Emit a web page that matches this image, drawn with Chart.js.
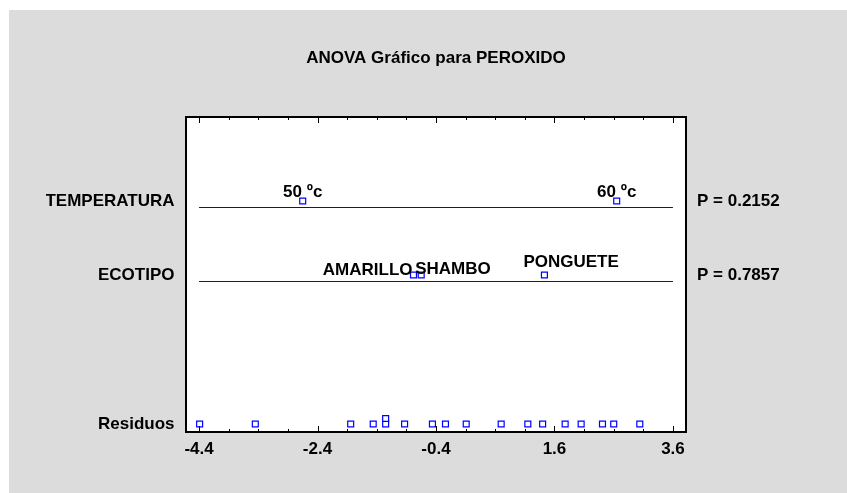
<!DOCTYPE html>
<html lang="es">
<head>
<meta charset="UTF-8">
<title>ANOVA Gráfico para PEROXIDO</title>
<style>
  html, body { margin: 0; padding: 0; background: #fff; }
  canvas { display: block; }
</style>
</head>
<body>
<canvas id="anovaChart" width="847" height="493"></canvas>
<script src="https://cdn.jsdelivr.net/npm/chart.js@4.4.1/dist/chart.umd.min.js"></script>
<script>
// --- data ---
const xTickLabels = [-4.4, -2.4, -0.4, 1.6, 3.6];
const xMinorStep = 0.5;

const factorNames = ['TEMPERATURA', 'ECOTIPO', 'Residuos'];
const pValueLabels = ['P = 0.2152', 'P = 0.7857', ''];

const temperaturaLevels = ['50 ºc', '60 ºc'];
const temperaturaEffects = [-2.65, 2.65];

const ecotipoLevels = ['AMARILLO', 'SHAMBO', 'PONGUETE'];
const ecotipoEffects = [-0.78, -0.65, 1.43];

const residuos = [-4.39, -3.45, -1.84, -1.46, -1.25, -1.25, -0.93, -0.46, -0.24,
                  0.11, 0.70, 1.15, 1.40, 1.78, 2.05, 2.41, 2.60, 3.04];

// --- layout (y runs 0..315 from top of plot down) ---
const xMin = xTickLabels[0];
const xMax = xTickLabels[xTickLabels.length - 1];
const xPad = 0.22;
const rowLine = [90.5, 164.5];
const rowMarker = [84, 158, 307];
const stackStep = 5.5;
const blue = '#0000ff';
const fontFamily = "'Liberation Sans', Arial, sans-serif";
const fontSize = 17;

const tempPlacement = [
    { align: 'center', dx: 0, dy: -4.5 },
    { align: 'center', dx: 0, dy: -4.5 }
];
const ecoPlacement = [
    { align: 'right', dx: -1, dy: 0 },
    { align: 'left', dx: -6, dy: -1 },
    { align: 'left', dx: -21, dy: -8.5 }
];

// stack equal residuals on top of each other
const seen = {};
const residuoPoints = residuos.map(v => {
    const k = v.toFixed(2);
    seen[k] = (seen[k] || 0) + 1;
    return { x: v, y: rowMarker[2] - (seen[k] - 1) * stackStep };
});

const markerStyle = {
    showLine: false,
    pointStyle: 'rect',
    pointRadius: 4.2,
    pointBorderWidth: 1.2,
    pointBorderColor: blue,
    pointBackgroundColor: '#fff',
    yAxisID: 'y'
};

Chart.defaults.font.family = fontFamily;
Chart.defaults.font.size = fontSize;
Chart.defaults.font.weight = 'bold';
Chart.defaults.color = '#000';

const backgroundPlugin = {
    id: 'panel',
    beforeDraw(chart) {
        const ctx = chart.ctx;
        const a = chart.chartArea;
        ctx.save();
        ctx.fillStyle = '#fff';
        ctx.fillRect(0, 0, chart.width, chart.height);
        ctx.fillStyle = '#dcdcdc';
        ctx.fillRect(9, 10, chart.width - 9, chart.height - 10);
        ctx.fillStyle = '#fff';
        ctx.fillRect(a.left, a.top, a.right - a.left, a.bottom - a.top);
        ctx.restore();
    }
};

const framePlugin = {
    id: 'frame',
    afterDraw(chart) {
        const ctx = chart.ctx;
        const { left, right, top, bottom } = chart.chartArea;
        const xs = chart.scales.x;
        const n = Math.round((xMax - xMin) / xMinorStep);
        const majorEvery = Math.round((xTickLabels[1] - xTickLabels[0]) / xMinorStep);
        ctx.save();
        ctx.strokeStyle = '#000';
        ctx.lineWidth = 1;
        for (let i = 0; i <= n; i++) {
            const px = Math.round(xs.getPixelForValue(xMin + i * xMinorStep)) + 0.5;
            const len = i % majorEvery === 0 ? 6 : 3;
            ctx.beginPath();
            ctx.moveTo(px, top);
            ctx.lineTo(px, top + len);
            ctx.moveTo(px, bottom);
            ctx.lineTo(px, bottom - len);
            ctx.stroke();
        }
        ctx.lineWidth = 2;
        ctx.strokeRect(left, top, right - left, bottom - top);
        ctx.restore();
    }
};

const pointLabelPlugin = {
    id: 'pointLabels',
    afterDatasetsDraw(chart) {
        const ctx = chart.ctx;
        ctx.save();
        ctx.font = 'bold ' + fontSize + 'px ' + fontFamily;
        ctx.fillStyle = '#000';
        ctx.textBaseline = 'alphabetic';
        chart.data.datasets.forEach((ds, di) => {
            if (!ds.pointLabels) return;
            chart.getDatasetMeta(di).data.forEach((pt, i) => {
                const p = ds.placement[i];
                ctx.textAlign = p.align;
                ctx.fillText(ds.pointLabels[i], pt.x + p.dx, pt.y + p.dy);
            });
        });
        ctx.restore();
    }
};

const rowTicks = scale => { scale.ticks = rowMarker.map(v => ({ value: v })); };

new Chart(document.getElementById('anovaChart'), {
    type: 'scatter',
    data: {
        datasets: [
            {
                data: [{ x: xMin, y: rowLine[0] }, { x: xMax, y: rowLine[0] }],
                showLine: true, borderColor: blue, borderWidth: 1, pointRadius: 0, yAxisID: 'y'
            },
            {
                data: [{ x: xMin, y: rowLine[1] }, { x: xMax, y: rowLine[1] }],
                showLine: true, borderColor: blue, borderWidth: 1, pointRadius: 0, yAxisID: 'y'
            },
            Object.assign({
                data: temperaturaEffects.map(v => ({ x: v, y: rowMarker[0] })),
                pointLabels: temperaturaLevels,
                placement: tempPlacement
            }, markerStyle),
            Object.assign({
                data: ecotipoEffects.map(v => ({ x: v, y: rowMarker[1] })),
                pointLabels: ecotipoLevels,
                placement: ecoPlacement
            }, markerStyle),
            Object.assign({ data: residuoPoints }, markerStyle)
        ]
    },
    options: {
        responsive: false,
        animation: false,
        events: [],
        layout: { padding: { top: 0, left: 46, right: 61, bottom: 34 } },
        plugins: {
            legend: { display: false },
            tooltip: { enabled: false },
            title: {
                display: true,
                text: 'ANOVA Gráfico para PEROXIDO',
                fullSize: false,
                padding: { top: 47.8, bottom: 48.8 },
                font: { size: fontSize, weight: 'bold' },
                color: '#000'
            }
        },
        scales: {
            x: {
                type: 'linear',
                min: xMin - xPad,
                max: xMax + xPad,
                afterBuildTicks: s => { s.ticks = xTickLabels.map(v => ({ value: v })); },
                afterFit: s => { s.height = 27; },
                grid: { display: false, drawTicks: false },
                border: { display: false },
                ticks: {
                    padding: 7,
                    autoSkip: false,
                    maxRotation: 0,
                    callback: v => v.toFixed(1)
                }
            },
            y: {
                type: 'linear',
                position: 'left',
                reverse: true,
                min: 0,
                max: 315,
                afterBuildTicks: rowTicks,
                afterFit: s => { s.width = 140; },
                grid: { display: false, drawTicks: false },
                border: { display: false },
                ticks: { padding: 11.5, autoSkip: false, callback: (v, i) => factorNames[i] }
            },
            y2: {
                type: 'linear',
                position: 'right',
                reverse: true,
                min: 0,
                max: 315,
                afterBuildTicks: rowTicks,
                afterFit: s => { s.width = 100; },
                grid: { display: false, drawTicks: false },
                border: { display: false },
                ticks: { padding: 11, autoSkip: false, callback: (v, i) => pValueLabels[i] }
            }
        }
    },
    plugins: [backgroundPlugin, framePlugin, pointLabelPlugin]
});
</script>
</body>
</html>
